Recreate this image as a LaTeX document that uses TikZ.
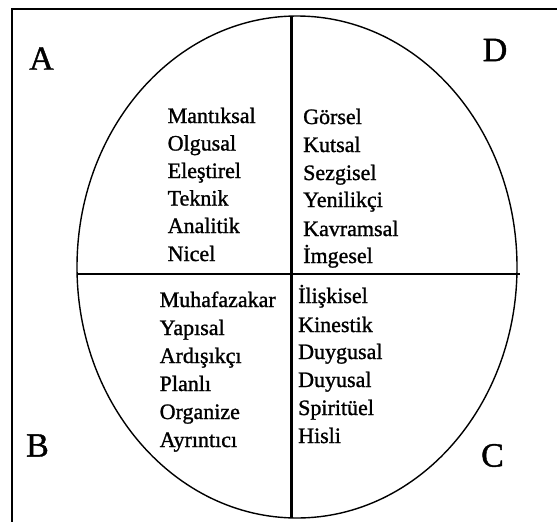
\documentclass[tikz,border=0pt]{standalone}
\usepackage{fontspec}
\setmainfont{Liberation Serif}
\newfontfamily\heavyserif[BoldFont={Liberation Serif},BoldFeatures={FakeBold=1.2}]{Liberation Serif}
\usepackage{tikz}

\begin{document}
\begin{tikzpicture}[
    x=1pt, y=-1pt,
    word/.style={font=\heavyserif\bfseries\fontsize{22}{26}\selectfont, anchor=base west, inner sep=0pt},
    corner/.style={font=\heavyserif\bfseries\fontsize{34}{40}\selectfont, inner sep=0pt}
]
\useasboundingbox (0,0) rectangle (557,522);

% Frame
\draw[line width=2pt] (11.5,522) -- (11.5,9) -- (557,9);

% Ellipse and cross
\draw[line width=1.4pt] (297,267) ellipse [x radius=220, y radius=251];
\coordinate (top) at (291.5,17);
\coordinate (bottom) at (291.5,518);
\coordinate (left) at (77,274);
\coordinate (right) at (520,274);
\draw[line width=3pt] (top) -- (bottom);
\draw[line width=2.6pt] (left) -- (right);

% Corner letters
\node[corner] (labA) at (41.5,58.5) {A};
\node[corner] (labD) at (495,50) {D};
\node[corner] (labB) at (37.5,445.5) {B};
\node[corner] (labC) at (492.5,455.5) {C};

% A
\node[word] (a1) at (167.5,123) {Mantıksal};
\node[word] (a2) at (167.5,150.5) {Olgusal};
\node[word] (a3) at (167.5,178) {Eleştirel};
\node[word] (a4) at (167.5,205.5) {Teknik};
\node[word] (a5) at (167.5,233) {Analitik};
\node[word] (a6) at (167.5,261) {Nicel};

% D
\node[word] (d1) at (303,124) {Görsel};
\node[word] (d2) at (303,152) {Kutsal};
\node[word] (d3) at (303,180) {Sezgisel};
\node[word] (d4) at (303,207) {Yenilikçi};
\node[word] (d5) at (303,236) {Kavramsal};
\node[word] (d6) at (303,263) {İmgesel};

% B
\node[word] (b1) at (159.5,307) {Muhafazakar};
\node[word] (b2) at (159.5,335) {Yapısal};
\node[word] (b3) at (159.5,363) {Ardışıkçı};
\node[word] (b4) at (159.5,391) {Planlı};
\node[word] (b5) at (159.5,419) {Organize};
\node[word] (b6) at (159.5,447) {Ayrıntıcı};

% C
\node[word] (c1) at (298,303) {İlişkisel};
\node[word] (c2) at (298,332) {Kinestik};
\node[word] (c3) at (298,359) {Duygusal};
\node[word] (c4) at (298,387) {Duyusal};
\node[word] (c5) at (298,415) {Spiritüel};
\node[word] (c6) at (298,443) {Hisli};

\end{tikzpicture}
\end{document}
